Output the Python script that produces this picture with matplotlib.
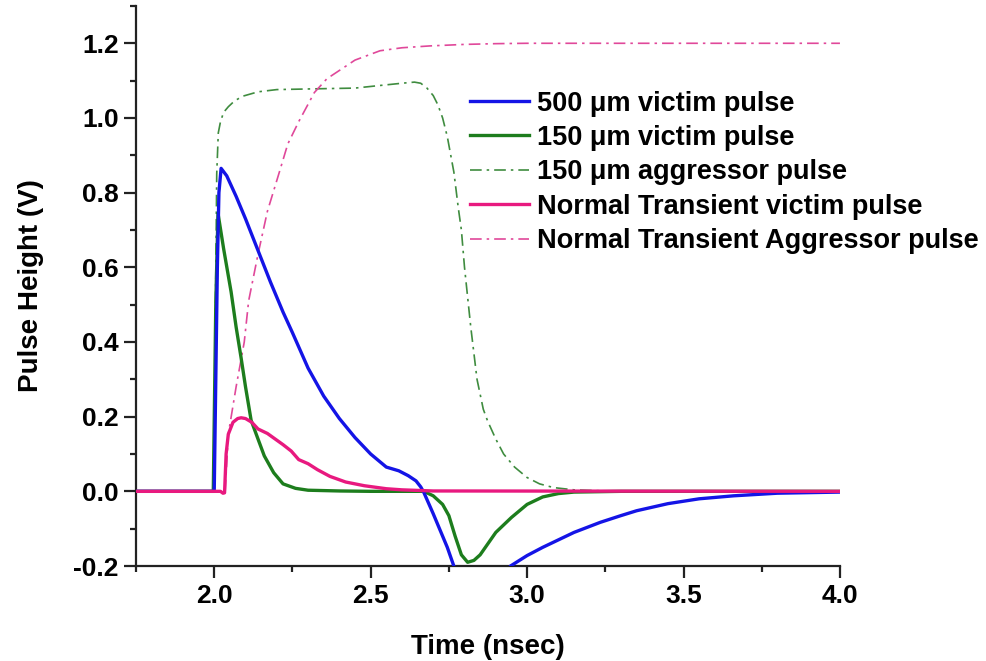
import matplotlib.pyplot as plt
from matplotlib.ticker import MultipleLocator, FormatStrFormatter

plt.rcParams['font.family'] = ['Liberation Sans', 'DejaVu Sans']
plt.rcParams['font.weight'] = 'bold'
plt.rcParams['axes.unicode_minus'] = False

# 500 um victim pulse
t_v500 = [1.75, 2.0, 2.005, 2.01, 2.015, 2.022, 2.04, 2.07, 2.1, 2.14, 2.18, 2.22, 2.25, 2.3,
          2.35, 2.4, 2.45, 2.5, 2.55, 2.59, 2.62, 2.645, 2.66, 2.67, 2.7, 2.745, 2.77, 2.8,
          2.85, 2.9, 2.947, 3.0, 3.05, 3.1, 3.15, 3.234, 3.3, 3.35, 3.45, 3.55, 3.66, 3.8, 4.0]
v_v500 = [0, 0, 0.3, 0.6, 0.8, 0.865, 0.845, 0.79, 0.73, 0.645, 0.56, 0.48, 0.425, 0.33,
          0.255, 0.195, 0.144, 0.10, 0.065, 0.055, 0.042, 0.028, 0.012, -0.003, -0.06, -0.15,
          -0.21, -0.26, -0.30, -0.27, -0.2, -0.172, -0.15, -0.13, -0.11, -0.083, -0.065,
          -0.052, -0.033, -0.02, -0.012, -0.005, -0.002]

# 150 um victim pulse
t_v150 = [1.75, 1.997, 2.005, 2.012, 2.03, 2.054, 2.07, 2.086, 2.1, 2.118, 2.14, 2.16, 2.19,
          2.22, 2.26, 2.3, 2.4, 2.5, 2.6, 2.67, 2.7, 2.73, 2.75, 2.77, 2.79, 2.81, 2.83, 2.85,
          2.9, 2.95, 3.0, 3.05, 3.1, 3.15, 3.3, 4.0]
v_v150 = [0, 0, 0.5, 0.745, 0.65, 0.534, 0.44, 0.357, 0.28, 0.19, 0.14, 0.095, 0.05,
          0.02, 0.008, 0.003, 0.001, 0, 0, 0, -0.012, -0.035, -0.065, -0.12, -0.17, -0.19,
          -0.185, -0.17, -0.11, -0.07, -0.035, -0.015, -0.006, -0.002, 0, 0]

# 150 um aggressor pulse
t_a150 = [1.75, 1.998, 2.003, 2.008, 2.013, 2.02, 2.03, 2.045, 2.064, 2.09, 2.14, 2.2, 2.32,
          2.45, 2.53, 2.6, 2.64, 2.66, 2.68, 2.70, 2.715, 2.73, 2.745, 2.766, 2.78, 2.79,
          2.80, 2.82, 2.84, 2.86, 2.874, 2.9, 2.925, 2.96, 3.0, 3.04, 3.085, 3.15, 3.25, 4.0]
v_a150 = [0, 0, 0.4, 0.85, 0.96, 0.99, 1.015, 1.03, 1.045, 1.058, 1.07, 1.076, 1.078,
          1.08, 1.087, 1.093, 1.096, 1.093, 1.08, 1.06, 1.035, 1.0, 0.95, 0.855, 0.76, 0.70,
          0.6, 0.44, 0.3, 0.22, 0.188, 0.14, 0.10, 0.065, 0.037, 0.02, 0.01, 0.004, 0.001, 0]

# Normal transient victim pulse
t_nv = [1.75, 2.02, 2.028, 2.033, 2.038, 2.045, 2.06, 2.075, 2.086, 2.1, 2.12, 2.14, 2.17,
        2.19, 2.22, 2.246, 2.27, 2.3, 2.33, 2.37, 2.42, 2.48, 2.55, 2.6, 2.7, 4.0]
v_nv = [0, 0, -0.005, -0.004, 0.1, 0.153, 0.185, 0.195, 0.197, 0.195, 0.185, 0.167, 0.155,
        0.143, 0.125, 0.108, 0.085, 0.074, 0.058, 0.04, 0.025, 0.015, 0.007, 0.004, 0.001, 0]

# Normal transient aggressor pulse
t_na = [2.035, 2.045, 2.07, 2.096, 2.11, 2.14, 2.17, 2.21, 2.235, 2.27, 2.32, 2.36, 2.405,
        2.45, 2.53, 2.6, 2.69, 2.8, 2.9, 3.0, 4.0]
v_na = [0, 0.153, 0.28, 0.40, 0.51, 0.635, 0.75, 0.86, 0.93, 0.99, 1.068, 1.105, 1.13,
        1.155, 1.18, 1.188, 1.193, 1.197, 1.199, 1.2, 1.2]

fig = plt.figure(figsize=(9.87, 6.61), dpi=100)
ax = fig.add_axes([0.1378, 0.1437, 0.851 - 0.1378, 0.991 - 0.1437])

dashdot = (0, (7, 3, 1.5, 3))
ax.plot(t_v500, v_v500, color='#1414e6', lw=2.4, label='500 μm victim pulse', zorder=4)
ax.plot(t_v150, v_v150, color='#1d7d1d', lw=2.4, label='150 μm victim pulse', zorder=3)
ax.plot(t_a150, v_a150, color='#3f8c3f', lw=1.2, ls=dashdot, label='150 μm aggressor pulse', zorder=2)
ax.plot(t_nv, v_nv, color='#e8197f', lw=2.4, label='Normal Transient victim pulse', zorder=5)
ax.plot(t_na, v_na, color='#e0489a', lw=1.2, ls=dashdot, label='Normal Transient Aggressor pulse', zorder=2)

ax.set_xlim(1.75, 4.0)
ax.set_ylim(-0.2, 1.3)
ax.xaxis.set_major_locator(MultipleLocator(0.5))
ax.xaxis.set_minor_locator(MultipleLocator(0.25))
ax.yaxis.set_major_locator(MultipleLocator(0.2))
ax.yaxis.set_minor_locator(MultipleLocator(0.1))
ax.xaxis.set_major_formatter(FormatStrFormatter('%.1f'))
ax.yaxis.set_major_formatter(FormatStrFormatter('%.1f'))

for s in ['top', 'right']:
    ax.spines[s].set_visible(False)
for s in ['left', 'bottom']:
    ax.spines[s].set_linewidth(1.6)
    ax.spines[s].set_color('#222222')

ax.tick_params(which='major', direction='out', length=8.6, width=1.6, labelsize=19, color='#222222')
ax.tick_params(which='minor', direction='out', length=4.3, width=1.6, color='#222222')
ax.tick_params(axis='x', which='major', pad=4)
ax.tick_params(axis='y', which='major', pad=4)

ax.set_xlabel('Time (nsec)', fontsize=20, fontweight='bold', labelpad=19)
ax.set_ylabel('Pulse Height (V)', fontsize=20, fontweight='bold', labelpad=21)

leg = ax.legend(loc='upper left', bbox_to_anchor=(0.474, 0.849), frameon=False,
                fontsize=19.5, handlelength=2.2, handletextpad=0.3, labelspacing=0.31,
                borderaxespad=0, borderpad=0)

fig.savefig('out.png', dpi=100)
